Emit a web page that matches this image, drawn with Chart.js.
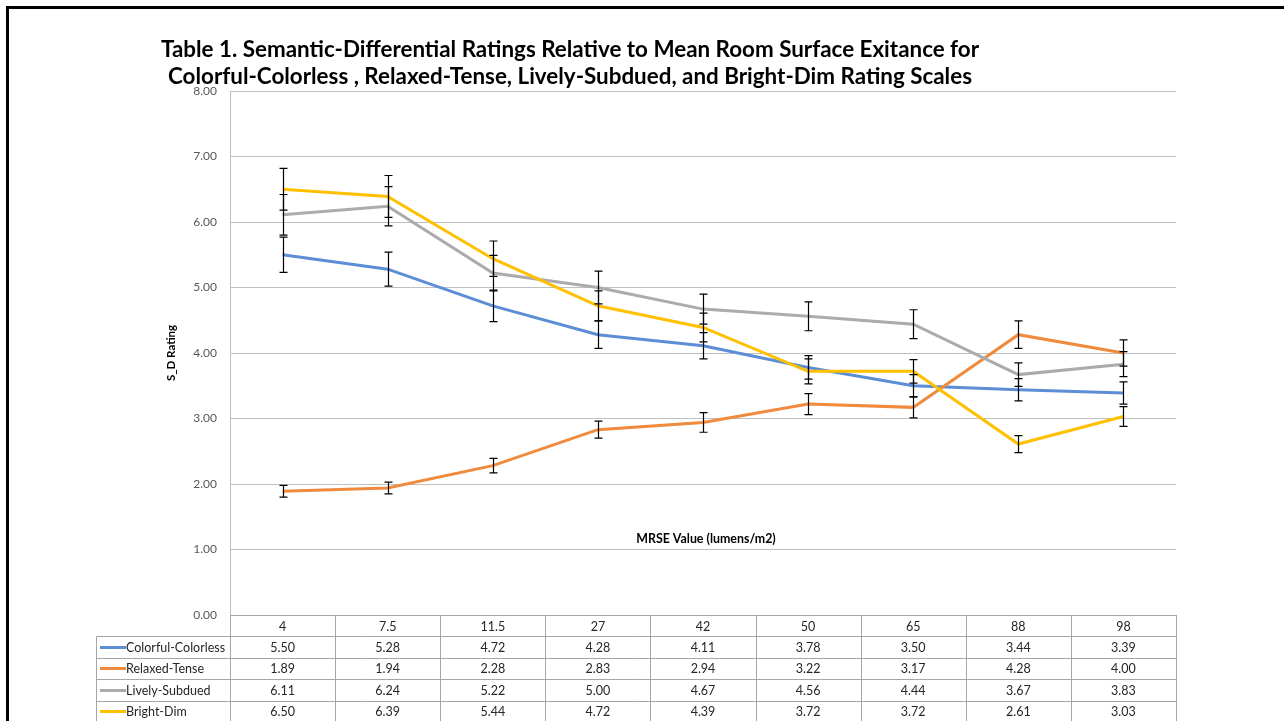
<!DOCTYPE html>
<html>
<head>
<meta charset="utf-8">
<script src="https://cdn.jsdelivr.net/npm/chart.js@4/dist/chart.umd.min.js"></script>
<style>
  html, body { margin: 0; padding: 0; background: #ffffff; }
  canvas { display: block; }
</style>
</head>
<body>
<canvas id="chart" width="1284" height="721"></canvas>
<script>
// MRSE categories (lumens/m2)
const categories = ['4', '7.5', '11.5', '27', '42', '50', '65', '88', '98'];

// Mean semantic-differential ratings per scale
const colorfulColorless = [5.50, 5.28, 4.72, 4.28, 4.11, 3.78, 3.50, 3.44, 3.39];
const relaxedTense      = [1.89, 1.94, 2.28, 2.83, 2.94, 3.22, 3.17, 4.28, 4.00];
const livelySubdued     = [6.11, 6.24, 5.22, 5.00, 4.67, 4.56, 4.44, 3.67, 3.83];
const brightDim         = [6.50, 6.39, 5.44, 4.72, 4.39, 3.72, 3.72, 2.61, 3.03];

// Error bar half-widths (rating units)
const colorfulErr = [0.27, 0.26, 0.24, 0.21, 0.20, 0.18, 0.17, 0.17, 0.17];
const relaxedErr  = [0.09, 0.09, 0.11, 0.13, 0.15, 0.16, 0.16, 0.21, 0.20];
const livelyErr   = [0.31, 0.30, 0.27, 0.25, 0.23, 0.22, 0.22, 0.18, 0.19];
const brightErr   = [0.32, 0.32, 0.27, 0.23, 0.22, 0.19, 0.18, 0.13, 0.15];

const seriesNames = ['Colorful-Colorless', 'Relaxed-Tense', 'Lively-Subdued', 'Bright-Dim'];

// Y axis ticks
const yTicks = [0, 1, 2, 3, 4, 5, 6, 7, 8];

const titleLines = [
  'Table 1. Semantic-Differential Ratings Relative to Mean Room Surface Exitance for',
  'Colorful-Colorless , Relaxed-Tense, Lively-Subdued, and Bright-Dim Rating Scales'
];
const yTitle = 'S_D Rating';
const xTitle = 'MRSE Value (lumens/m2)';

const colors = ['#5B8ED6', '#F08A3C', '#ABABAB', '#FFC000'];
const seriesData = [colorfulColorless, relaxedTense, livelySubdued, brightDim];
const seriesErr = [colorfulErr, relaxedErr, livelyErr, brightErr];

const FONT = 'Lato, "Open Sans", sans-serif';

// Frame, title and axis caption drawn around the plot
const decorPlugin = {
  id: 'decor',
  beforeDraw(chart) {
    const ctx = chart.ctx;
    ctx.save();
    ctx.fillStyle = '#ffffff';
    ctx.fillRect(0, 0, chart.width, chart.height);
    ctx.strokeStyle = '#000000';
    ctx.lineWidth = 3;
    ctx.beginPath();
    ctx.moveTo(7.5, chart.height);
    ctx.lineTo(7.5, 7.5);
    ctx.lineTo(chart.width, 7.5);
    ctx.stroke();
    ctx.restore();
  },
  afterDraw(chart) {
    const ctx = chart.ctx;
    const area = chart.chartArea;
    ctx.save();
    ctx.fillStyle = '#000000';
    ctx.textAlign = 'center';
    ctx.textBaseline = 'middle';
    ctx.font = 'bold 22.4px ' + FONT;
    ctx.fillText(titleLines[0], 570, 50);
    ctx.fillText(titleLines[1], 570, 77);
    ctx.font = 'bold 12.4px ' + FONT;
    ctx.fillText(xTitle, (area.left + area.right) / 2 + 3, 539);
    ctx.restore();
  }
};

// Vertical error bars with caps, drawn over the lines
const errorBarPlugin = {
  id: 'errorBars',
  afterDatasetsDraw(chart) {
    const ctx = chart.ctx;
    const xs = chart.scales.x;
    const ys = chart.scales.y;
    ctx.save();
    ctx.strokeStyle = '#000000';
    ctx.lineWidth = 1.2;
    const cap = 4;
    seriesData.forEach((vals, s) => {
      vals.forEach((v, i) => {
        const e = seriesErr[s][i];
        const x = Math.round(xs.getPixelForValue(i)) + 0.5;
        const yTop = ys.getPixelForValue(v + e);
        const yBot = ys.getPixelForValue(v - e);
        ctx.beginPath();
        ctx.moveTo(x, yTop);
        ctx.lineTo(x, yBot);
        ctx.moveTo(x - cap, yTop);
        ctx.lineTo(x + cap, yTop);
        ctx.moveTo(x - cap, yBot);
        ctx.lineTo(x + cap, yBot);
        ctx.stroke();
      });
    });
    ctx.restore();
  }
};

// Data table beneath the plot, aligned with the category columns
const dataTablePlugin = {
  id: 'dataTable',
  afterDraw(chart) {
    const ctx = chart.ctx;
    const xs = chart.scales.x;
    const area = chart.chartArea;
    const n = categories.length;
    const colW = (area.right - area.left) / n;
    const top = area.bottom;
    const headH = 21;
    const rowH = 21.5;
    const legendLeft = 96.5;
    const bottom = top + headH + rowH * seriesNames.length;

    ctx.save();
    ctx.strokeStyle = '#A6A6A6';
    ctx.lineWidth = 1;
    ctx.beginPath();
    // horizontal rules
    ctx.moveTo(area.left, Math.round(top) + 0.5);
    ctx.lineTo(area.right, Math.round(top) + 0.5);
    for (let r = 0; r <= seriesNames.length; r++) {
      const y = Math.round(top + headH + r * rowH) + 0.5;
      ctx.moveTo(legendLeft, y);
      ctx.lineTo(area.right, y);
    }
    // vertical rules
    ctx.moveTo(legendLeft, Math.round(top + headH) + 0.5);
    ctx.lineTo(legendLeft, bottom);
    for (let i = 0; i <= n; i++) {
      const x = Math.round(area.left + i * colW) + 0.5;
      ctx.moveTo(x, top);
      ctx.lineTo(x, bottom);
    }
    ctx.stroke();

    ctx.textBaseline = 'middle';
    ctx.font = '12.5px ' + FONT;
    ctx.fillStyle = '#262626';
    ctx.textAlign = 'center';
    categories.forEach((c, i) => {
      ctx.fillText(c, xs.getPixelForValue(i), top + headH / 2 + 1);
    });
    seriesNames.forEach((name, s) => {
      const yc = top + headH + rowH * s + rowH / 2 + 1;
      ctx.strokeStyle = colors[s];
      ctx.lineWidth = 3;
      ctx.beginPath();
      ctx.moveTo(100, Math.round(yc) - 0.5);
      ctx.lineTo(126, Math.round(yc) - 0.5);
      ctx.stroke();
      ctx.textAlign = 'left';
      ctx.fillStyle = '#262626';
      ctx.fillText(name, 126, yc);
      ctx.textAlign = 'center';
      seriesData[s].forEach((v, i) => {
        ctx.fillText(v.toFixed(2), xs.getPixelForValue(i), yc);
      });
    });
    ctx.restore();
  }
};

const datasets = seriesNames.map((name, s) => ({
  label: name,
  data: seriesData[s],
  borderColor: colors[s],
  backgroundColor: colors[s],
  borderWidth: 3,
  pointRadius: 0,
  pointHoverRadius: 0,
  tension: 0,
  fill: false,
  order: seriesNames.length - s
}));

new Chart(document.getElementById('chart'), {
  type: 'line',
  data: { labels: categories, datasets },
  options: {
    responsive: false,
    animation: false,
    events: [],
    layout: { padding: { top: 91, right: 108, bottom: 106, left: 160 } },
    plugins: {
      legend: { display: false },
      title: { display: false },
      tooltip: { enabled: false }
    },
    scales: {
      x: {
        type: 'category',
        offset: true,
        display: false
      },
      y: {
        min: 0,
        max: 8,
        afterBuildTicks(axis) {
          axis.ticks = yTicks.map(v => ({ value: v }));
        },
        afterFit(axis) { axis.width = 70; },
        border: { display: true, color: '#BFBFBF', width: 1 },
        grid: { color: '#BFBFBF', lineWidth: 1, drawTicks: false },
        ticks: {
          padding: 13,
          color: '#595959',
          font: { family: FONT, size: 12 },
          callback: (v) => Number(v).toFixed(2)
        },
        title: {
          display: true,
          text: yTitle,
          color: '#000000',
          font: { family: FONT, size: 11.5, weight: 'bold' },
          padding: { top: 4, bottom: 0 }
        }
      }
    }
  },
  plugins: [decorPlugin, errorBarPlugin, dataTablePlugin]
});
</script>
</body>
</html>
